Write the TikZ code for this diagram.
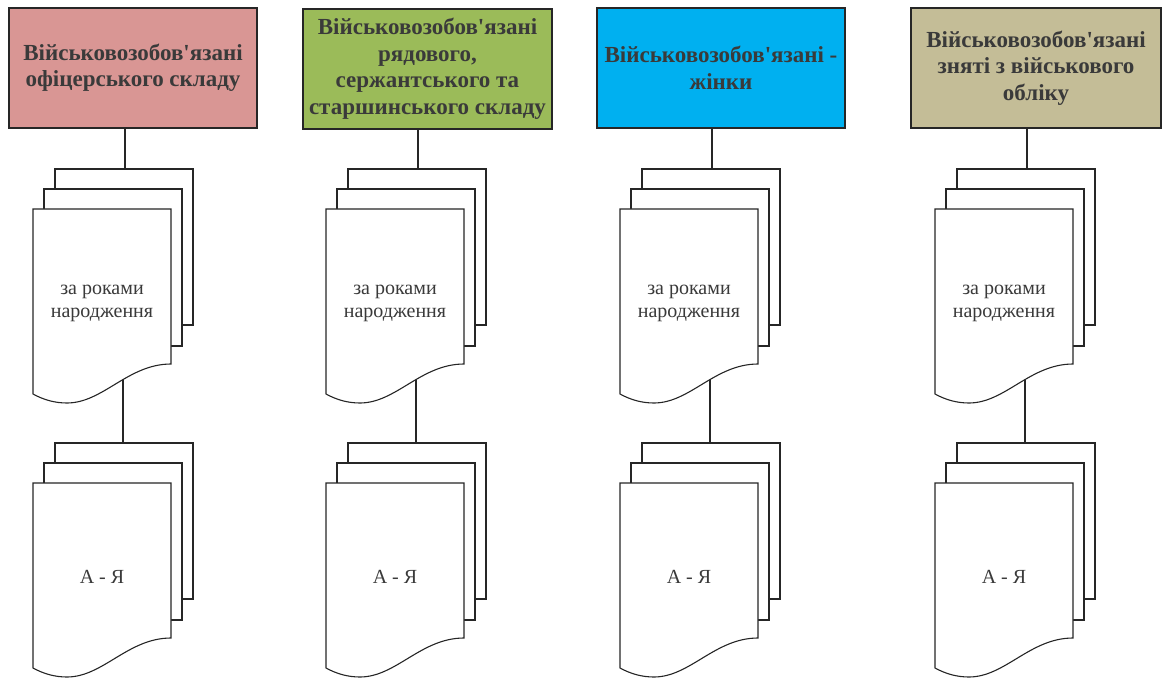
\documentclass[tikz,border=0pt]{standalone}
\usepackage{fontspec}
\setmainfont{Liberation Serif}
\definecolor{cpink}{HTML}{D99694}
\definecolor{cgreen}{HTML}{9BBB59}
\definecolor{cblue}{HTML}{00B0F0}
\definecolor{ckhaki}{HTML}{C4BD97}
\definecolor{ctext}{HTML}{3A3A3A}
\definecolor{cline}{HTML}{262626}
\newcommand\ap{\textquotesingle}
\tikzset{
  titlebox/.style={draw=cline, line width=1.3pt, inner sep=0pt, minimum height=120pt,
    align=center, text=ctext, font=\fontsize{23}{26.5}\selectfont\bfseries},
  docline/.style={draw=cline, fill=white, line width=1.1pt},
  doctext/.style={align=center, text=ctext, inner sep=0pt, font=\fontsize{20}{23}\selectfont},
  conn/.style={draw=cline, line width=1.1pt}
}
\newcommand\mycoords[3]{% #1 x0, #2 top, #3 name
  \coordinate (#3top) at (#1+92,#2);
  \coordinate (#3wave) at (#1+90,#2+209);
}
\newcommand\mystack[4]{% #1 x0, #2 top (back page), #3 name, #4 text
  \path[docline] (#1+22,#2) rectangle (#1+160,#2+156);
  \path[docline] (#1+11,#2+20) rectangle (#1+149,#2+177);
  \path[docline] (#1,#2+40) -- (#1+138,#2+40) -- (#1+138,#2+195)
     .. controls (#1+95,#2+195) and (#1+70,#2+234) .. (#1+34,#2+234)
     .. controls (#1+22,#2+234) and (#1+11,#2+231) .. (#1,#2+225) -- cycle;
  \node[doctext] (#3) at (#1+69,#2+134) {#4};
}
\begin{document}
\begin{tikzpicture}[x=1pt,y=-1pt]
\useasboundingbox (0,0) rectangle (1164,679);
% title boxes
\node[titlebox, fill=cpink, minimum width=248pt] (b1) at (133,68)
  {Військовозобов\ap язані\\офіцерського складу};
\node[titlebox, fill=cgreen, minimum width=249pt] (b2) at (427.5,69)
  {Військовозобов\ap язані\\рядового,\\сержантського та\\старшинського складу};
\node[titlebox, fill=cblue, minimum width=248pt] (b3) at (721,68)
  {Військовозобов\ap язані -\\жінки};
\node[titlebox, fill=ckhaki, minimum width=250pt] (b4) at (1036,68)
  {Військовозобов\ap язані\\зняті з військового\\обліку};
% coordinates
\mycoords{33}{169}{s1u}\mycoords{33}{443}{s1l}
\mycoords{326}{169}{s2u}\mycoords{326}{443}{s2l}
\mycoords{620}{169}{s3u}\mycoords{620}{443}{s3l}
\mycoords{935}{169}{s4u}\mycoords{935}{443}{s4l}
% connectors
\foreach \i in {1,2,3,4}{
  \draw[conn] (b\i.south -| s\i utop) -- (s\i utop);
  \draw[conn] (s\i uwave) -- (s\i uwave |- s\i ltop);
}
% document stacks
\mystack{33}{169}{d1u}{за роками\\народження}
\mystack{33}{443}{d1l}{А - Я}
\mystack{326}{169}{d2u}{за роками\\народження}
\mystack{326}{443}{d2l}{А - Я}
\mystack{620}{169}{d3u}{за роками\\народження}
\mystack{620}{443}{d3l}{А - Я}
\mystack{935}{169}{d4u}{за роками\\народження}
\mystack{935}{443}{d4l}{А - Я}
\end{tikzpicture}
\end{document}
